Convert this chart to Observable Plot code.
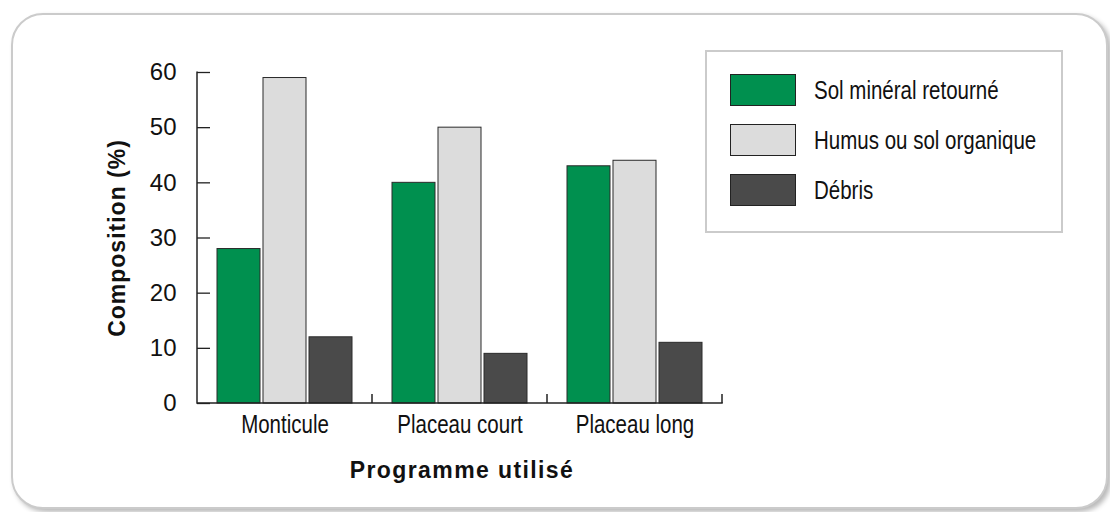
<!DOCTYPE html>
<html>
<head>
<meta charset="utf-8">
<script src="https://cdn.jsdelivr.net/npm/d3@7"></script>
<script src="https://cdn.jsdelivr.net/npm/@observablehq/plot@0.6"></script>
<style>
  html, body { margin: 0; padding: 0; background: #ffffff; }
  body { width: 1110px; height: 512px; position: relative; overflow: hidden; font-family: "Liberation Sans", Arial, sans-serif; }
  #card { position: absolute; left: 11px; top: 13px; width: 1097px; height: 496px; box-sizing: border-box;
          border: 2px solid #cbcbcb; border-radius: 32px; background: #fff;
          box-shadow: 3px 3px 5px rgba(0,0,0,0.28); }
  #chart { position: absolute; left: 0; top: 0; }
  #chart svg { overflow: visible; }
  .ytitle { position: absolute; left: 117px; top: 238px; transform: translate(-50%,-50%) rotate(-90deg);
            font: bold 23px "Liberation Sans", Arial, sans-serif; letter-spacing: 1px; line-height: 1; white-space: nowrap; color: #111; }
  .xtitle { position: absolute; left: 462px; top: 470px; transform: translate(-50%,-50%);
            font: bold 23px "Liberation Sans", Arial, sans-serif; letter-spacing: 1.4px; line-height: 1; white-space: nowrap; color: #111; }
  #legend { position: absolute; left: 705px; top: 50px; width: 358px; height: 183px; box-sizing: border-box;
            border: 2px solid #cbcbcb; background: #fff; }
  .item { position: absolute; left: 23px; height: 34px; display: flex; align-items: center; white-space: nowrap; }
  .sw { width: 66px; height: 32px; border: 1px solid #222; box-sizing: border-box; flex: none; }
  .lab { margin-left: 18px; display: inline-block; transform: scaleX(0.82); transform-origin: left center;
         font: 25px "Liberation Sans", Arial, sans-serif; color: #111; line-height: 1; }
</style>
</head>
<body>
<div id="card"></div>
<div id="chart"></div>
<div class="ytitle">Composition (%)</div>
<div class="xtitle">Programme utilisé</div>
<div id="legend"></div>
<script>
// ---- data ----
const categories = ["Monticule", "Placeau court", "Placeau long"];
const series = ["Sol minéral retourné", "Humus ou sol organique", "Débris"];
const solMineral = [28, 40, 43];
const humus = [59, 50, 44];
const debris = [12, 9, 11];
const colors = ["#00904f", "#dcdcdc", "#4a4a4a"];
const yTicks = [0, 10, 20, 30, 40, 50, 60];

const seriesValues = [solMineral, humus, debris];
const data = [];
categories.forEach((c, i) => {
  series.forEach((s, j) => data.push({category: c, series: s, value: seriesValues[j][i]}));
});

const chart = Plot.plot({
  width: 1110,
  height: 512,
  marginLeft: 197,
  marginRight: 388,
  marginTop: 72,
  marginBottom: 109,
  style: {background: "transparent", fontFamily: '"Liberation Sans", Arial, sans-serif', color: "#111"},
  fx: {domain: categories, padding: 0},
  x: {domain: series, paddingInner: 0.055, paddingOuter: 0.42, axis: null},
  y: {domain: [0, 60]},
  color: {domain: series, range: colors},
  marks: [
    Plot.barY(data, {fx: "category", x: "series", y: "value", fill: "series", stroke: "#2a2a2a", strokeWidth: 1}),
    Plot.axisY({ticks: yTicks, tickSize: -13, tickPadding: 34, fontSize: 24, label: null, stroke: "#222", strokeWidth: 1.3}),
    Plot.axisFx({anchor: "bottom", tickSize: 0, tickPadding: 12, fontSize: 25, label: null, className: "fxaxis"})
  ]
});
document.getElementById("chart").appendChild(chart);

// condensed look for the category labels (narrow Helvetica style)
d3.select(chart).selectAll(".fxaxis text").each(function() {
  const w = this.getComputedTextLength();
  this.setAttribute("textLength", (w * 0.82).toFixed(1));
  this.setAttribute("lengthAdjust", "spacingAndGlyphs");
});

// axis lines and group separator ticks derived from the plot's scales
const fx = chart.scale("fx");
const ys = chart.scale("y");
const svg = d3.select(chart);
const left = fx.apply(categories[0]);
const right = fx.apply(categories[categories.length - 1]) + fx.bandwidth;
const y0 = ys.apply(0), yTop = ys.apply(60);
const g = svg.append("g").attr("stroke", "#222").attr("stroke-width", 1.5).attr("fill", "none");
g.append("line").attr("x1", left).attr("x2", left).attr("y1", yTop - 0.5).attr("y2", y0 + 0.75);
g.append("line").attr("x1", left).attr("x2", right + 0.75).attr("y1", y0).attr("y2", y0);
categories.forEach(c => {
  const xb = fx.apply(c) + fx.bandwidth;
  g.append("line").attr("x1", xb).attr("x2", xb).attr("y1", y0).attr("y2", y0 - 9);
});

// legend
const legend = document.getElementById("legend");
series.forEach((s, i) => {
  const it = document.createElement("div");
  it.className = "item";
  it.style.top = (21 + i * 50) + "px";
  const sw = document.createElement("div");
  sw.className = "sw";
  sw.style.background = colors[i];
  const lab = document.createElement("span");
  lab.className = "lab";
  lab.textContent = s;
  it.appendChild(sw); it.appendChild(lab);
  legend.appendChild(it);
});
</script>
</body>
</html>
